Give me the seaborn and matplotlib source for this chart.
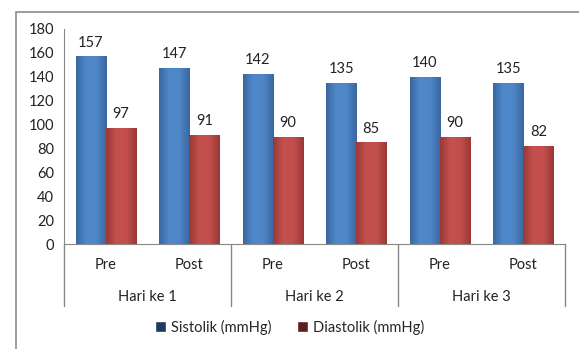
import numpy as np
import pandas as pd
import matplotlib
matplotlib.use("Agg")
import matplotlib.pyplot as plt
import seaborn as sns
from matplotlib.patches import Rectangle, Patch
from matplotlib.colors import LinearSegmentedColormap
import matplotlib.transforms as mtransforms

days = ["Hari ke 1", "Hari ke 2", "Hari ke 3"]
phases = ["Pre", "Post"]
sistolik = [157, 147, 142, 135, 140, 135]
diastolik = [97, 91, 90, 85, 90, 82]
series = ["Sistolik (mmHg)", "Diastolik (mmHg)"]

categories = [f"{d} {p}" for d in days for p in phases]
df = pd.DataFrame({
    "kategori": categories * 2,
    "seri": [series[0]] * 6 + [series[1]] * 6,
    "nilai": sistolik + diastolik,
})

sns.set_style("white")
plt.rcParams["font.family"] = ["Lato", "DejaVu Sans"]
plt.rcParams["font.size"] = 10.5

fig = plt.figure(figsize=(5.79, 3.49), dpi=100)
ax = fig.add_axes([64 / 579, 1 - 244 / 349, (565 - 64) / 579, (244 - 29) / 349])

palette = {series[0]: "#4A7EBB", series[1]: "#BE4B48"}
sns.barplot(data=df, x="kategori", y="nilai", hue="seri", order=categories,
            hue_order=series, palette=palette, width=0.72, saturation=1,
            legend=False, ax=ax)

# cylinder-like shading like the Excel bars
shades = {
    series[0]: LinearSegmentedColormap.from_list("b", ["#3A67A0", "#5089CB", "#4F86C6", "#3A67A0"]),
    series[1]: LinearSegmentedColormap.from_list("r", ["#9A3836", "#C4514E", "#C24F4C", "#9A3836"]),
}
grad = np.linspace(0, 1, 64).reshape(1, -1)
for cont, name in zip(ax.containers, series):
    for bar in cont:
        x0, w, h = bar.get_x(), bar.get_width(), bar.get_height()
        im = ax.imshow(grad, cmap=shades[name], aspect="auto",
                       extent=[x0, x0 + w, 0, h], zorder=bar.get_zorder())
        im.set_clip_path(bar)
        bar.set_edgecolor("none")
    ax.bar_label(cont, padding=5, color="#222222")

ax.set_xlim(-0.5, 5.5)
ax.set_ylim(0, 180)
ax.set_yticks(range(0, 181, 20))
ax.set_xticks([])
ax.set_xlabel("")
ax.set_ylabel("")
ax.tick_params(axis="y", length=0, pad=7, labelcolor="#222222")
for s in ["top", "right"]:
    ax.spines[s].set_visible(False)
ax.spines["left"].set_color("#888888")
ax.spines["bottom"].set_color("#888888")

# two-level category axis
trans = mtransforms.blended_transform_factory(ax.transData, ax.transAxes)
for xs in [-0.5, 1.5, 3.5, 5.5]:
    ax.plot([xs, xs], [0, -62 / 215], color="#888888", lw=1,
            transform=trans, clip_on=False)
for i, c in enumerate(categories):
    ax.text(i, -21 / 215, c.split()[-1], ha="center", va="center",
            transform=trans, color="#222222")
for j, d in enumerate(days):
    ax.text(2 * j + 0.5, -53 / 215, d, ha="center", va="center",
            transform=trans, color="#222222")

handles = [Patch(facecolor="#1F3864"), Patch(facecolor="#5A1F1E")]
fig.legend(handles, series, loc="center", bbox_to_anchor=(0.5, 1 - 327 / 349),
           ncol=2, frameon=False, handlelength=0.75, handleheight=0.75,
           handletextpad=0.3, columnspacing=1.8)

# chart area border
fig.patches.append(Rectangle((16 / 579, -0.1), 2, 1 - 12 / 349 + 0.1,
                             transform=fig.transFigure, fill=False,
                             edgecolor="#8C8C8C", lw=1.2))

fig.savefig("out.png", dpi=100)
